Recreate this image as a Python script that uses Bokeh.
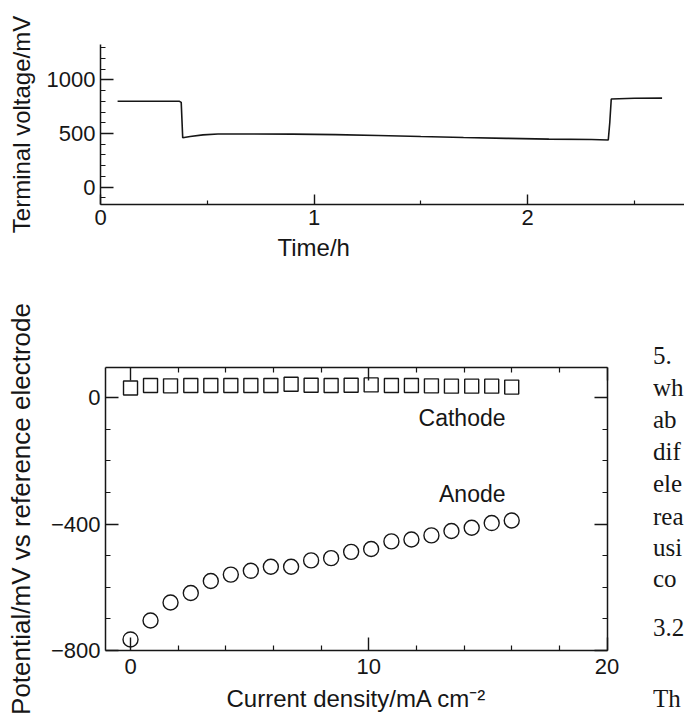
from bokeh.plotting import figure
from bokeh.models import FixedTicker, LinearAxis, Range1d, Label, Title, Div, CustomJSTickFormatter
from bokeh.layouts import row
from bokeh.embed import file_html
from bokeh.resources import INLINE

# ---------------- data: top chart (terminal voltage vs time) ----------------
time_h = [0.08, 0.37, 0.378, 0.385, 0.42, 0.48, 0.55, 0.70, 0.90, 1.10, 1.30,
          1.50, 1.70, 1.90, 2.10, 2.30, 2.378, 2.385, 2.392, 2.50, 2.63]
voltage_mv = [800, 800, 790, 460, 472, 487, 495, 496, 494, 490, 482,
              472, 463, 455, 448, 444, 440, 600, 822, 828, 830]
top_x_ticks = [0, 1, 2]
top_x_tick_labels = ["0", "1", "2"]
top_x_minor = [0.5, 1.5, 2.5]
top_y_ticks = [0, 500, 1000]
top_y_tick_labels = ["0", "500", "1000"]
top_y_minor = [-100, 100, 200, 300, 400, 600, 700, 800, 900, 1100, 1200, 1300]

# ---------------- data: bottom chart (electrode potentials) ----------------
current_density = [0.0, 0.84, 1.68, 2.53, 3.37, 4.21, 5.05, 5.89, 6.74, 7.58,
                   8.42, 9.26, 10.1, 10.95, 11.79, 12.63, 13.47, 14.32, 15.16, 16.0]
cathode_mv = [30, 38, 37, 38, 38, 38, 38, 38, 42, 39,
              38, 39, 40, 38, 38, 37, 36, 36, 36, 33]
anode_mv = [-765, -705, -648, -618, -580, -560, -548, -535, -535, -515,
            -508, -488, -479, -455, -449, -436, -422, -412, -397, -389]
bot_x_ticks = [0, 10, 20]
bot_x_tick_labels = ["0", "10", "20"]
bot_x_minor = [2, 4, 6, 8, 12, 14, 16, 18]
bot_y_ticks = [-800, -400, 0]
bot_y_tick_labels = ["\u2212800", "\u2212400", "0"]
bot_y_minor = [-700, -600, -500, -300, -200, -100]

# fragments of the page's body text visible at the right edge of the scan
page_text = ["5.", "wh", "ab", "dif", "ele", "rea", "usi", "co", "3.2", "Th"]
page_text_top_px = [55, 87, 119, 151, 183, 216, 247, 278, 327, 398]

INK = "#161616"
SANS = "Liberation Sans"
SERIF = "Liberation Serif"


def style_axis(ax, major_in=13, minor_in=5):
    ax.axis_line_color = INK
    ax.axis_line_width = 1.5
    ax.major_tick_line_color = INK
    ax.minor_tick_line_color = INK
    ax.major_tick_line_width = 1.4
    ax.minor_tick_line_width = 1.2
    ax.major_tick_in = major_in
    ax.major_tick_out = 0
    ax.minor_tick_in = minor_in
    ax.minor_tick_out = 0
    ax.major_label_text_font = SANS
    ax.major_label_text_font_size = "22px"
    ax.major_label_text_color = INK
    ax.axis_label_text_font = SANS
    ax.axis_label_text_font_size = "24px"
    ax.axis_label_text_font_style = "normal"
    ax.axis_label_text_color = INK


# ---------------- top figure ----------------
p1 = figure(width=684, height=288, x_range=Range1d(0, 2.735), y_range=Range1d(-161, 1329),
            output_backend="svg", toolbar_location=None,
            min_border_left=100, min_border_right=0, min_border_top=44, min_border_bottom=84,
            x_axis_type=None, y_axis_type=None)
p1.outline_line_color = None
p1.background_fill_color = "white"
p1.border_fill_color = "white"

xa1 = LinearAxis(ticker=FixedTicker(ticks=top_x_ticks, minor_ticks=top_x_minor),
                 major_label_overrides=dict(zip(top_x_ticks, top_x_tick_labels)))
style_axis(xa1, major_in=10, minor_in=4)
xa1.major_label_standoff = 5
p1.add_layout(xa1, "below")

ya1 = LinearAxis(ticker=FixedTicker(ticks=top_y_ticks, minor_ticks=top_y_minor),
                 major_label_overrides=dict(zip(top_y_ticks, top_y_tick_labels)),
                 axis_label="Terminal voltage/mV")
style_axis(ya1)
ya1.major_label_standoff = 5
ya1.axis_label_standoff = 9
p1.add_layout(ya1, "left")

p1.line(time_h, voltage_mv, line_color=INK, line_width=1.6)

p1.add_layout(Title(text="Time/h", align="left", offset=177, standoff=8,
                    text_font=SANS, text_font_size="24px", text_font_style="normal",
                    text_color=INK), "below")

# ---------------- bottom figure ----------------
p2 = figure(width=653, height=426, x_range=Range1d(-1.05, 20.02), y_range=Range1d(-800, 95),
            output_backend="svg", toolbar_location=None,
            min_border_left=105, min_border_right=46, min_border_top=79, min_border_bottom=64,
            x_axis_type=None, y_axis_type=None)
p2.outline_line_color = None
p2.background_fill_color = "white"
p2.border_fill_color = "white"

blank = CustomJSTickFormatter(code="return ''")

xa2 = LinearAxis(ticker=FixedTicker(ticks=bot_x_ticks, minor_ticks=bot_x_minor),
                 major_label_overrides=dict(zip(bot_x_ticks, bot_x_tick_labels)),
                 axis_label="Current density/mA cm\u207b\u00b2")
style_axis(xa2)
xa2.major_label_standoff = 8
xa2.axis_label_standoff = 8
p2.add_layout(xa2, "below")

xa2t = LinearAxis(ticker=FixedTicker(ticks=bot_x_ticks, minor_ticks=bot_x_minor), formatter=blank)
style_axis(xa2t)
xa2t.major_label_standoff = 0
p2.add_layout(xa2t, "above")

ya2 = LinearAxis(ticker=FixedTicker(ticks=bot_y_ticks, minor_ticks=bot_y_minor),
                 major_label_overrides=dict(zip(bot_y_ticks, bot_y_tick_labels)),
                 axis_label="Potential/mV vs reference electrode")
style_axis(ya2)
ya2.axis_label_text_font_size = "26px"
ya2.major_label_standoff = 5
ya2.axis_label_standoff = 12
p2.add_layout(ya2, "left")

ya2r = LinearAxis(ticker=FixedTicker(ticks=bot_y_ticks, minor_ticks=bot_y_minor), formatter=blank)
style_axis(ya2r)
ya2r.major_label_standoff = 0
p2.add_layout(ya2r, "right")

p2.scatter(current_density, cathode_mv, marker="square", size=14,
           fill_color=None, line_color=INK, line_width=1.4)
p2.scatter(current_density, anode_mv, marker="circle", size=15,
           fill_color=None, line_color=INK, line_width=1.4)

p2.add_layout(Label(x=15.74, y=-66, text="Cathode", text_align="right", text_baseline="middle",
                    text_font=SANS, text_font_size="23px", text_color=INK))
p2.add_layout(Label(x=15.74, y=-305, text="Anode", text_align="right", text_baseline="middle",
                    text_font=SANS, text_font_size="23px", text_color=INK))

spans = "".join(
    f'<span style="position:absolute;left:0;top:{top}px;line-height:25px;white-space:nowrap">{t}</span>'
    for t, top in zip(page_text, page_text_top_px))
page_div = Div(
    text=(f'<div style="position:relative;width:31px;height:426px;overflow:hidden;'
          f'font-family:\'{SERIF}\';font-size:25px;color:{INK};background:white">{spans}</div>'),
    width=31, height=426, margin=0)

open("out.html", "w").write(file_html([p1, row(p2, page_div, spacing=0)], INLINE))
